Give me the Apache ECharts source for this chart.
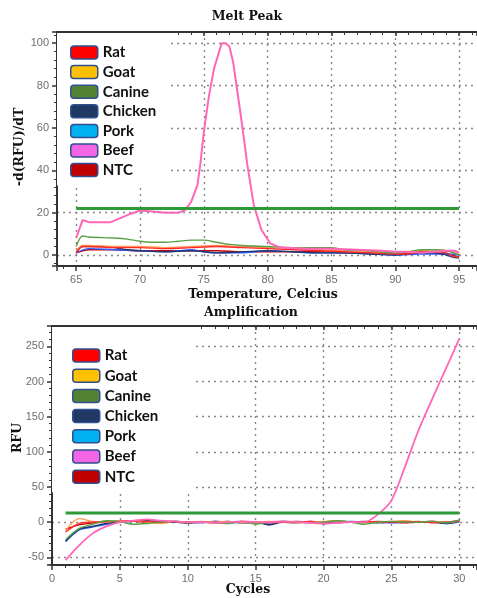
<!DOCTYPE html>
<html>
<head>
<meta charset="utf-8">
<script src="https://cdn.jsdelivr.net/npm/echarts@6/dist/echarts.min.js"></script>
<style>html,body{margin:0;padding:0;background:#fff;}#c{width:477px;height:598px;}</style>
</head>
<body>
<div id="c"></div>
<script>
// ---------- Data ----------
const seriesNames = ['Rat', 'Goat', 'Canine', 'Chicken', 'Pork', 'Beef', 'NTC'];

// Melt peak: [temperature, -d(RFU)/dT]
const meltRat = [[65,1],[65.5,4],[66,4],[68,3.5],[70,3.5],[72,3],[74,3.5],[76,4],[78,3.5],[80,3],[82,2.5],[84,2],[86,1.5],[88,1],[90,0.5],[91,0.5],[92,1.5],[93,1.5],[94,1],[94.5,-0.5],[95,-1]];
const meltGoat = [[65,2],[65.5,4.5],[66,4.5],[68,4],[70,4],[72,3.5],[74,4],[76,4.5],[78,4],[80,3.5],[82,3],[84,2.5],[86,2],[88,1.5],[90,1],[92,2],[93,2.5],[94,2],[95,1]];
const meltCanine = [[65,4],[65.5,9],[66,8.5],[68,8],[69,7.5],[70,6.5],[71,6],[72,6],[73,6.5],[74,7],[75,7],[76,6],[77,5],[78,4.5],[80,4],[82,3.5],[84,3.5],[85,3.5],[86,2.5],[88,2],[90,1],[91,1.5],[92,2.5],[93,2.5],[94,2],[95,0]];
const meltChicken = [[65,1],[65.5,4],[67,4],[68,3.5],[69,2.5],[70,2],[72,1.5],[74,2],[75,1.5],[76,1],[78,1.5],[80,2],[82,1.5],[84,1],[86,1],[88,0.5],[90,0],[92,1],[93,1],[94,0],[94.5,-1],[95,-1.5]];
const meltPork = [[65,1],[66,3],[68,2.5],[70,2],[72,1.5],[73,2],[74,2.5],[75,1.5],[76,1],[78,1],[80,2],[82,1.5],[84,1],[86,1],[88,0.5],[90,0],[92,0.5],[94,0.5],[95,0]];
const meltBeef = [[65,8],[65.5,16.5],[66,15.5],[67,15.5],[67.7,15.5],[68.5,17.5],[69.3,19.5],[70,21],[71,20.5],[72,20],[73,20],[73.5,21],[74,25],[74.5,33],[74.75,44],[75,58],[75.4,75],[75.8,88],[76.4,100],[76.7,100],[77,98.5],[77.3,91],[77.8,70],[78.1,57],[78.4,43],[78.9,24],[79.2,18],[79.5,12],[80.2,5.5],[81,3.5],[83,3],[85,3],[87,2.5],[89,2],[90,1.5],[91,1.5],[92,1],[93,1.5],[94,2],[94.7,2],[95,1]];
const meltNTC = [[65,1],[66,2.5],[68,2.5],[70,2],[72,2],[74,2],[76,2],[78,1.5],[80,1.5],[82,1.5],[84,1.5],[86,1],[88,1],[90,0.5],[92,1],[94,0.5],[95,-1]];
const meltThreshold = [[65,22],[95,22]];

// Amplification: RFU per cycle 1..30
const cycles = [1,2,3,4,5,6,7,8,9,10,11,12,13,14,15,16,17,18,19,20,21,22,23,24,25,26,27,28,29,30];
const ampRat = [-14,-2,0,1,1,2,1,0,1,0,0,-1,-1,1,0,-1,0,0,1,-2,-1,0,0,1,0,0,1,-1,0,1];
const ampGoat = [-12,5,1,0,2,2,0,-2,1,0,1,0,1,-1,0,1,0,-1,0,1,2,0,-1,0,1,2,0,1,0,1];
const ampCanine = [-25,-9,-3,2,1,-3,-2,0,1,0,0,-1,-2,1,-3,0,1,0,-1,0,2,0,-3,0,1,0,0,1,-1,3];
const ampChicken = [-27,-10,-6,-2,0,1,2,1,0,-1,0,0,1,-1,0,-4,0,-1,1,0,2,0,0,-1,0,1,0,0,-2,2];
const ampPork = [-28,-11,-7,-3,0,2,1,0,1,0,-1,1,0,-1,0,-3,1,0,0,-2,0,1,0,0,-1,0,0,1,-2,0];
const ampBeef = [-54,-33,-16,-6,0,2,4,2,1,0,0,-1,0,1,0,0,1,0,-1,-2,-1,0,0,11,31,79,131,175,218,261];
const ampNTC = [-10,-4,-1,0,1,1,0,1,0,-1,0,1,0,0,-1,0,0,1,0,-1,0,0,1,0,0,-1,0,1,0,2];
const ampThreshold = [[1,13],[30,13]];

// ---------- Styles ----------
const lineColors = {Rat:'#ff2a2a', Goat:'#ff9a50', Canine:'#5aa048', Chicken:'#1f3a70', Pork:'#2e5cff', Beef:'#ff66b8', NTC:'#c00000'};
const swatchColors = {Rat:'#ff0000', Goat:'#ffc000', Canine:'#548235', Chicken:'#1f3864', Pork:'#00b0f0', Beef:'#f266e6', NTC:'#c00000'};
const meltData = {Rat:meltRat, Goat:meltGoat, Canine:meltCanine, Chicken:meltChicken, Pork:meltPork, Beef:meltBeef, NTC:meltNTC};
const ampData = {Rat:ampRat, Goat:ampGoat, Canine:ampCanine, Chicken:ampChicken, Pork:ampPork, Beef:ampBeef, NTC:ampNTC};
const drawOrder = ['NTC','Pork','Chicken','Goat','Rat','Canine','Beef'];

const gridColor = '#888';
const axisDark = '#333';
const serif = '"DejaVu Serif"';

function valueAxis(gridIndex, min, max, opts) {
  return Object.assign({
    type: 'value', gridIndex, min, max,
    axisLine: {show: true, onZero: false, lineStyle: {color: axisDark, width: 2}},
    axisTick: {show: true, inside: false, length: 5, lineStyle: {color: axisDark, width: 1.5}},
    minorTick: {show: true, splitNumber: 5, length: 3, lineStyle: {color: axisDark, width: 1}},
    axisLabel: {color: '#6e6e6e', fontSize: 11, fontFamily: '"Liberation Sans", Arial', margin: 8, showMinLabel: false, showMaxLabel: false},
    splitLine: {show: true, showMinLine: false, showMaxLine: false, lineStyle: {color: gridColor, type: [2, 4], width: 1.4}},
    minorSplitLine: {show: false}
  }, opts || {});
}
function frameAxis(gridIndex, min, max) {
  return {
    type: 'value', gridIndex, min, max, position: 'top',
    axisLine: {show: true, onZero: false, lineStyle: {color: axisDark, width: 2}},
    axisTick: {show: true, inside: true, length: 4, lineStyle: {color: axisDark, width: 1.5}},
    minorTick: {show: true, splitNumber: 5, length: 3, lineStyle: {color: axisDark, width: 1}},
    axisLabel: {show: false}, splitLine: {show: false}
  };
}

const series = [];
drawOrder.forEach(n => {
  series.push({
    name: n, type: 'line', xAxisIndex: 0, yAxisIndex: 0, data: meltData[n],
    showSymbol: false, symbol: 'none', smooth: n === 'Beef' ? false : 0.3,
    color: lineColors[n], lineStyle: {width: n === 'Beef' ? 2 : 1.4}, z: 3
  });
});
series.push({name: 'thresholdMelt', type: 'line', xAxisIndex: 0, yAxisIndex: 0, data: meltThreshold,
  symbol: 'none', color: '#2e9a35', lineStyle: {width: 3}, z: 4});
drawOrder.forEach(n => {
  series.push({
    name: n, type: 'line', xAxisIndex: 1, yAxisIndex: 1,
    data: cycles.map((c, i) => [c, ampData[n][i]]),
    showSymbol: false, symbol: 'none', smooth: 0.3,
    color: lineColors[n], lineStyle: {width: n === 'Beef' ? 1.8 : 1.4}, z: 3
  });
});
series.push({name: 'thresholdAmp', type: 'line', xAxisIndex: 1, yAxisIndex: 1, data: ampThreshold,
  symbol: 'none', color: '#2e9a35', lineStyle: {width: 3}, z: 4});

function legendFor(left, top, padding, gap) {
  return {
    orient: 'vertical', left, top, padding, itemGap: gap,
    backgroundColor: '#fff', selectedMode: false,
    icon: 'roundRect', itemWidth: 27, itemHeight: 13, itemTextGap: 7,
    textStyle: {fontFamily: 'Lato', fontWeight: 'bold', fontSize: 15, color: '#111'},
    data: seriesNames.map(n => ({name: n, itemStyle: {color: swatchColors[n], borderColor: '#2f4f8f', borderWidth: 1.5}}))
  };
}

const option = {
  animation: false,
  backgroundColor: '#fff',
  grid: [
    {left: 57, top: 32, right: 0, height: 234},
    {left: 52, top: 326, right: 0, height: 239}
  ],
  xAxis: [
    valueAxis(0, 63.5, 96.4),
    valueAxis(1, 0, 31.3, {axisLabel: {color: '#6e6e6e', fontSize: 11, fontFamily: '"Liberation Sans", Arial', margin: 8, showMinLabel: true, showMaxLabel: false}}),
    frameAxis(0, 63.5, 96.4),
    frameAxis(1, 0, 31.3)
  ],
  yAxis: [
    valueAxis(0, -5.2, 105.3),
    valueAxis(1, -61, 279)
  ],
  legend: [
    legendFor(57, 33, [12, 13, 8, 13], 4.6),
    legendFor(52, 327, [21, 37, 8, 20], 5.2)
  ],
  graphic: [
    {type: 'text', x: 247, y: 17, style: {text: 'Melt Peak', fontFamily: serif, fontWeight: 'bold', fontSize: 12.5, fill: '#111', textAlign: 'center', textVerticalAlign: 'middle'}},
    {type: 'text', x: 263, y: 295, style: {text: 'Temperature, Celcius', fontFamily: serif, fontWeight: 'bold', fontSize: 12.5, fill: '#111', textAlign: 'center', textVerticalAlign: 'middle'}},
    {type: 'text', x: 251, y: 313, style: {text: 'Amplification', fontFamily: serif, fontWeight: 'bold', fontSize: 12.5, fill: '#111', textAlign: 'center', textVerticalAlign: 'middle'}},
    {type: 'text', x: 248, y: 590, style: {text: 'Cycles', fontFamily: serif, fontWeight: 'bold', fontSize: 12.5, fill: '#111', textAlign: 'center', textVerticalAlign: 'middle'}},
    {type: 'text', x: 20, y: 147, rotation: Math.PI / 2, style: {text: '-d(RFU)/dT', fontFamily: serif, fontWeight: 'bold', fontSize: 12.5, fill: '#111', textAlign: 'center', textVerticalAlign: 'middle'}},
    {type: 'text', x: 18, y: 438, rotation: Math.PI / 2, style: {text: 'RFU', fontFamily: serif, fontWeight: 'bold', fontSize: 12.5, fill: '#111', textAlign: 'center', textVerticalAlign: 'middle'}}
  ],
  series
};

const chart = echarts.init(document.getElementById('c'), null, {renderer: 'canvas'});
chart.setOption(option);
</script>
</body>
</html>
